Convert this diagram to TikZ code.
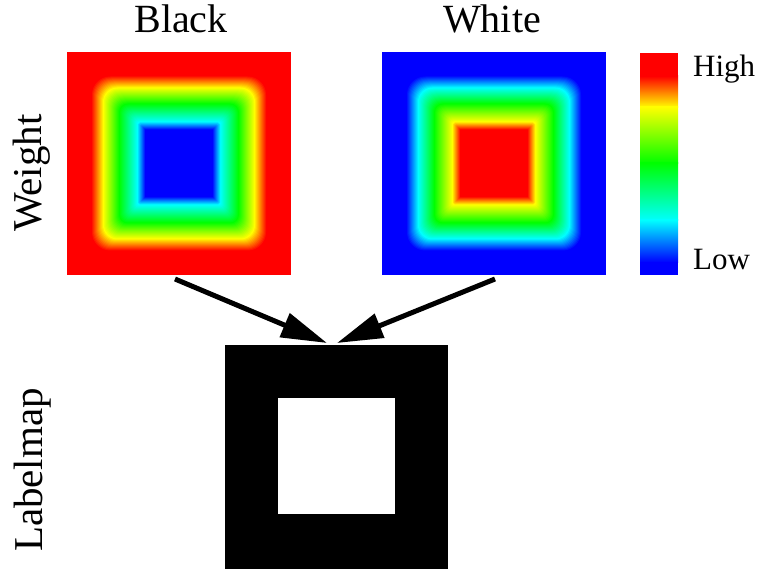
\documentclass[tikz,border=0pt]{standalone}
\usepackage{fontspec}
\usepackage{graphicx}
\setmainfont{Liberation Serif}
\newfontfamily\mytitlefont{LiberationSerif-Regular.ttf}
\usetikzlibrary{arrows.meta}
\newcommand\mysetjet[2]{%
  \pgfmathsetmacro\jr{min(1,max(0,#2-2))}%
  \pgfmathsetmacro\jg{min(1,max(0,min(#2,4-#2)))}%
  \pgfmathsetmacro\jb{min(1,max(0,2-#2))}%
  \definecolor{#1}{rgb}{\jr,\jg,\jb}}
\newcommand\myheat[3]{% #1 cx, #2 cy, #3 reverse (0 or 1)
  \foreach \myd in {92,91,...,34}{%
    \pgfmathsetmacro\myt{ifthenelse(\myd<42,(\myd-34)/8,ifthenelse(\myd<60,1+(\myd-42)/18,ifthenelse(\myd<76,2+(\myd-60)/16,3+(\myd-76)/12)))}%
    \pgfmathsetmacro\myt{min(4,max(0,\myt))}%
    \pgfmathsetmacro\myt{#3==1 ? 4-\myt : \myt}%
    \pgfmathsetmacro\myrr{max(0.1,(\myd-36)*0.36)}%
    \mysetjet{hc}{\myt}%
    \fill[hc, rounded corners=\myrr pt] (#1-\myd,#2-\myd) rectangle (#1+\myd,#2+\myd);
  }}
\tikzset{
  titletext/.style={font=\mytitlefont\fontsize{40}{48}\selectfont, anchor=base, inner sep=0pt},
  sidetext/.style={font=\mytitlefont\fontsize{41}{48}\selectfont, anchor=east, inner sep=0pt},
  barlabel/.style={font=\fontsize{31}{36}\selectfont, anchor=base west, inner sep=0pt},
  bigarrow/.style={line width=5pt, -{Triangle[length=46pt,width=25pt]}},
  mapnode/.style={inner sep=0pt, minimum width=224pt, minimum height=223pt}
}
\begin{document}
\begin{tikzpicture}[x=1pt,y=-1pt]
\useasboundingbox (0,0) rectangle (761,569);
% left weight map (Black)
\fill[red] (67,52) rectangle (291,275);
\myheat{179}{163.5}{0}
% right weight map (White)
\fill[blue] (382,52) rectangle (606,275);
\myheat{494}{163.5}{1}
\node[mapnode] (mblack) at (179,163.5) {};
\node[mapnode] (mwhite) at (494,163.5) {};
% labelmap
\node[fill=black, inner sep=0pt, minimum width=223pt, minimum height=224pt] (label) at (336.5,457) {};
\node[fill=white, inner sep=0pt, minimum width=117pt, minimum height=116pt] (inner) at (336.5,456) {};
% colorbar
\fill[red] (640,53) rectangle (678,76.5);
\shade[top color=red, bottom color=yellow] (640,76) rectangle (678,107.5);
\shade[top color=yellow, bottom color=green] (640,107) rectangle (678,163.5);
\shade[top color=green, bottom color=cyan] (640,163) rectangle (678,220.5);
\shade[top color=cyan, bottom color=blue] (640,220) rectangle (678,262.5);
\fill[blue] (640,262) rectangle (678,275);
% texts
\node[titletext] (tblack) at (181,33) {Black};
\node[titletext] (twhite) at (492,33) {White};
\node[sidetext] (tweight) at (51,173) {\rotatebox{90}{Weight}};
\node[sidetext] (tlabel) at (51,470) {\rotatebox{90}{Labelmap}};
\node[barlabel] (high) at (693,77) {High};
\node[barlabel] (low) at (693,270) {Low};
% arrows
\coordinate (s1) at (175,279);
\coordinate (e1) at (327,343);
\coordinate (s2) at (495,279);
\coordinate (e2) at (337,343);
\draw[bigarrow] (s1) -- (e1);
\draw[bigarrow] (s2) -- (e2);
\end{tikzpicture}
\end{document}
